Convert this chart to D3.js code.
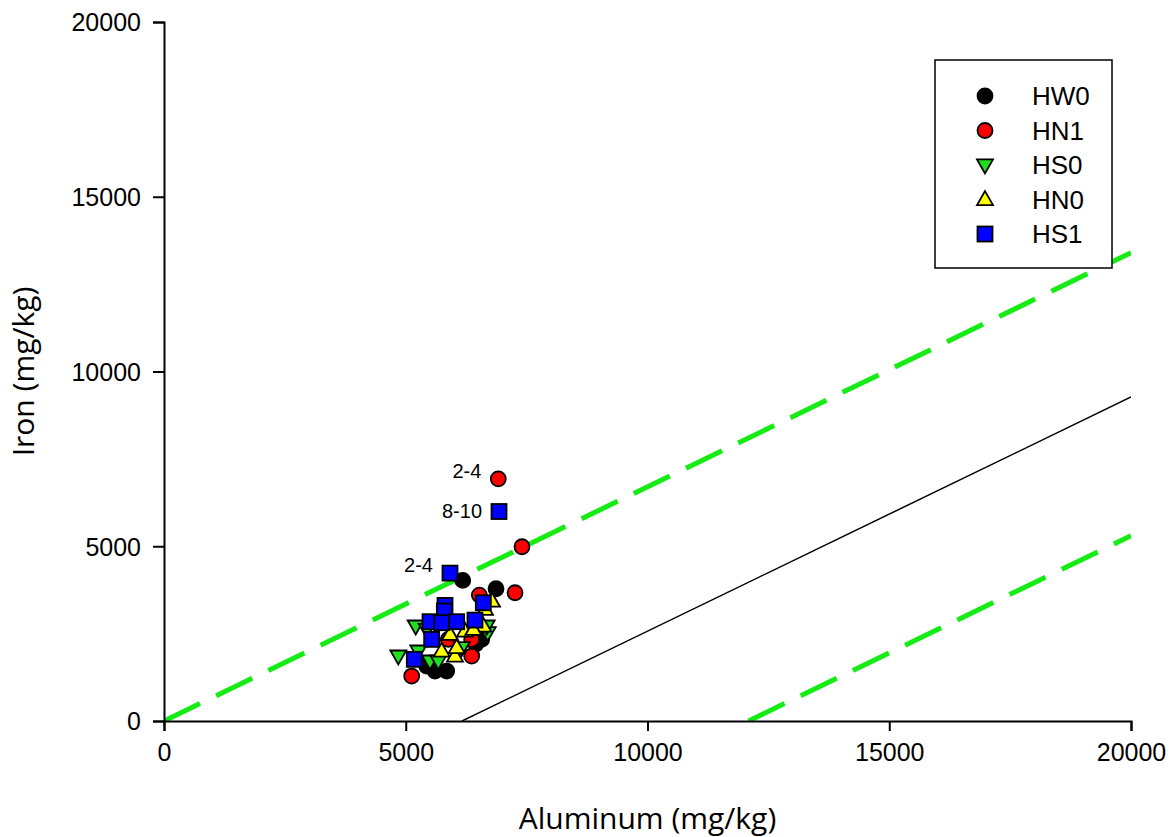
<!DOCTYPE html>
<html>
<head>
<meta charset="utf-8">
<script src="https://cdn.jsdelivr.net/npm/d3@7"></script>
<style>
  body { margin: 0; background: #fff; }
  text { font-family: "Liberation Sans", Arial, sans-serif; }
</style>
</head>
<body>
<div id="chart"></div>
<script>
// series values, [aluminum, iron] in mg/kg
var HW0 = [[6178, 4022], [6867, 3784], [5605, 1429], [5847, 1429], [5433, 1572], [6570, 2335], [6450, 2200]];
var HN1 = [[6914, 6929], [7404, 4985], [7260, 3670], [6522, 3602], [5123, 1286], [6364, 1858], [6364, 2335], [5880, 2335]];
var HS0 = [[4846, 1858], [5205, 2716], [5502, 1715], [5674, 1715], [6157, 2098], [6695, 2527], [5260, 2001], [6674, 2716], [5433, 2621]];
var HN0 = [[5915, 2478], [6225, 2573], [6604, 2716], [5743, 2001], [6018, 1858], [6398, 2621], [6639, 3193], [6784, 3430], [6053, 2100]];
var HS1 = [[5812, 3307], [5798, 3144], [5502, 2841], [5743, 2812], [6053, 2841], [6432, 2887], [6604, 3384], [5536, 2335], [5177, 1764], [5915, 4231], [6929, 5994]];

var seriesNames = ["HW0", "HN1", "HS0", "HN0", "HS1"];
var seriesData = [HW0, HN1, HS0, HN0, HS1];
var seriesColors = ["#000000", "#ff0000", "#22dd22", "#ffff00", "#0000ff"];
var seriesShapes = ["circle", "circle", "down", "up", "square"];

// point labels: [aluminum, iron, text]
var pointLabels = [[6914, 6929, "2-4"], [6929, 5994, "8-10"], [5915, 4231, "2-4"]];

// reference lines iron = slope * aluminum + intercept
var lineSlope = 0.67;
var lineIntercepts = [0, -4130, -8100];
var lineDashed = [true, false, true];

var xTicks = [0, 5000, 10000, 15000, 20000];
var yTicks = [0, 5000, 10000, 15000, 20000];

var width = 1173, height = 837;
var plotLeft = 164, plotRight = 1131, plotTop = 22, plotBottom = 721;

var svg = d3.select("#chart").append("svg")
    .attr("width", width)
    .attr("height", height);

var x = d3.scaleLinear().domain([0, 20000]).range([plotLeft, plotRight]);
var y = d3.scaleLinear().domain([0, 20000]).range([plotBottom, plotTop]);

// reference lines
svg.append("clipPath").attr("id", "clip")
  .append("rect").attr("x", plotLeft).attr("y", plotTop)
  .attr("width", plotRight - plotLeft).attr("height", plotBottom - plotTop);

lineIntercepts.forEach(function(b, i) {
    var x0 = Math.max(0, -b / lineSlope);
    svg.append("line")
        .attr("clip-path", "url(#clip)")
        .attr("x1", x(x0)).attr("y1", y(lineSlope * x0 + b))
        .attr("x2", x(20000)).attr("y2", y(lineSlope * 20000 + b))
        .attr("stroke", lineDashed[i] ? "#14ec14" : "#000")
        .attr("stroke-width", lineDashed[i] ? 5 : 1.5)
        .attr("stroke-dasharray", lineDashed[i] ? "40,18" : null);
});

// axes
var xAxis = svg.append("g")
    .attr("transform", "translate(0," + plotBottom + ")")
    .call(d3.axisBottom(x).tickValues(xTicks).tickSize(10).tickPadding(12).tickFormat(d3.format("d")));
var yAxis = svg.append("g")
    .attr("transform", "translate(" + plotLeft + ",0)")
    .call(d3.axisLeft(y).tickValues(yTicks).tickSize(11).tickPadding(12).tickFormat(d3.format("d")));
[xAxis, yAxis].forEach(function(a) {
    a.select(".domain").attr("stroke-width", 2);
    a.selectAll(".tick line").attr("stroke-width", 2);
    a.selectAll(".tick text").attr("font-size", 25).attr("fill", "#000")
        .attr("font-family", "Liberation Sans, Arial, sans-serif");
});
yAxis.selectAll(".tick text").attr("dy", "0.35em");

svg.append("text")
    .attr("x", (plotLeft + plotRight) / 2).attr("y", 829)
    .attr("text-anchor", "middle")
    .attr("font-size", 30)
    .style("font-family", "'Open Sans', sans-serif")
    .text("Aluminum (mg/kg)");

svg.append("text")
    .attr("transform", "translate(34," + ((plotTop + plotBottom) / 2) + ") rotate(-90)")
    .attr("text-anchor", "middle")
    .attr("font-size", 30)
    .style("font-family", "'Open Sans', sans-serif")
    .text("Iron (mg/kg)");

var triSize = 16;
function drawSymbol(g, shape, color) {
    if (shape === "circle") {
        g.append("circle").attr("r", 7.5);
    } else if (shape === "square") {
        g.append("rect").attr("x", -7.5).attr("y", -7.5).attr("width", 15).attr("height", 15);
    } else {
        var h = triSize * 0.87, s = shape === "up" ? 1 : -1;
        g.append("path").attr("d", "M0," + (-s * h * 0.6) + "L" + (triSize / 2) + "," + (s * h * 0.4) + "L" + (-triSize / 2) + "," + (s * h * 0.4) + "Z");
    }
    g.selectAll("*").attr("fill", color).attr("stroke", "#000").attr("stroke-width", 1.8);
}

// points
seriesData.forEach(function(data, i) {
    svg.append("g").selectAll("g")
        .data(data)
        .enter().append("g")
        .attr("transform", function(d) { return "translate(" + x(d[0]) + "," + y(d[1]) + ")"; })
        .each(function() { drawSymbol(d3.select(this), seriesShapes[i], seriesColors[i]); });
});

svg.append("g").selectAll("text")
    .data(pointLabels)
    .enter().append("text")
    .attr("x", function(d) { return x(d[0]) - 17; })
    .attr("y", function(d) { return y(d[1]) - (d[2] === "8-10" ? 1 : 8); })
    .attr("dy", "0.35em")
    .attr("text-anchor", "end")
    .attr("font-size", 20)
    .text(function(d) { return d[2]; });

// legend
var legend = svg.append("g");
legend.append("rect")
    .attr("x", 935).attr("y", 60).attr("width", 177).attr("height", 208)
    .attr("fill", "#fff").attr("stroke", "#000").attr("stroke-width", 1.5);
seriesNames.forEach(function(name, i) {
    var row = legend.append("g").attr("transform", "translate(0," + (96 + i * 34.5) + ")");
    drawSymbol(row.append("g").attr("transform", "translate(985,0)"), seriesShapes[i], seriesColors[i]);
    row.append("text").attr("x", 1032).attr("dy", "0.35em").attr("font-size", 26).text(name);
});
</script>
</body>
</html>
